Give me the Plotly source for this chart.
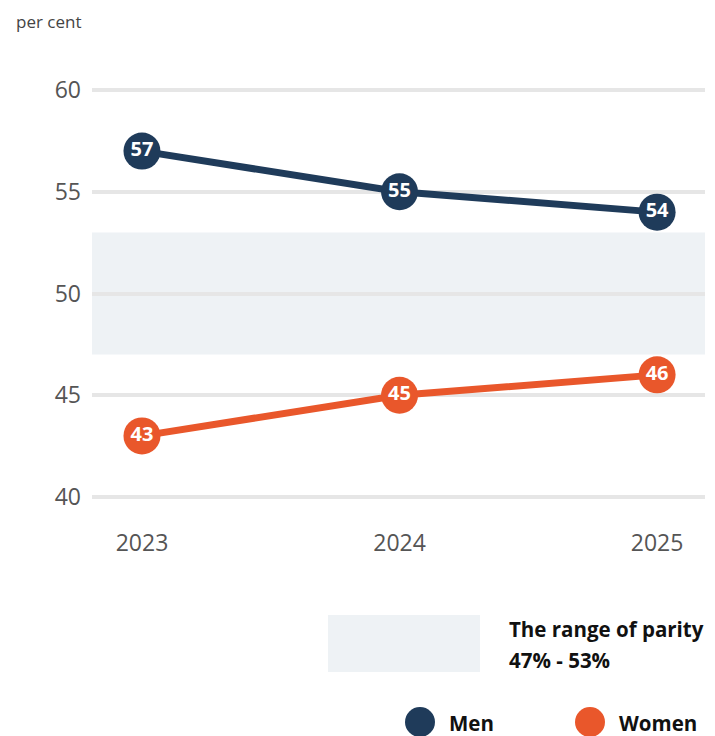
import plotly.graph_objects as go

years = ["2023", "2024", "2025"]
men = [57, 55, 54]
women = [43, 45, 46]
parity_low, parity_high = 47, 53
y_ticks = [40, 45, 50, 55, 60]

MEN_C = "#1f3b5a"
WOMEN_C = "#e9572b"
BAND_C = "#eef2f5"
FONT = "Open Sans"

fig = go.Figure()

fig.add_hrect(y0=parity_low, y1=parity_high, fillcolor=BAND_C, line_width=0, layer="below")

for name, vals, col in [("Men", men, MEN_C), ("Women", women, WOMEN_C)]:
    fig.add_trace(go.Scatter(
        x=years, y=vals, name=name, mode="lines+markers+text",
        line=dict(color=col, width=7),
        marker=dict(color=col, size=37, line=dict(width=0)),
        text=[str(v) for v in vals], textposition="middle center",
        textfont=dict(family=FONT, size=20, color="white", weight="bold"),
        showlegend=False, cliponaxis=False, hoverinfo="x+y",
    ))

W, H = 715, 736
L, R, T, B = 92, 10, 86, 235
pw, ph = W - L - R, H - T - B

def px(x):
    return (x - L) / pw

def py(y):
    return (H - B - y) / ph

shapes = [
    dict(type="rect", xref="paper", yref="paper", x0=px(328), x1=px(480), y0=py(672), y1=py(615),
         fillcolor=BAND_C, line_width=0),
    dict(type="circle", xref="paper", yref="paper", x0=px(405), x1=px(435), y0=py(737), y1=py(707),
         fillcolor=MEN_C, line_width=0),
    dict(type="circle", xref="paper", yref="paper", x0=px(575), x1=px(605), y0=py(737), y1=py(707),
         fillcolor=WOMEN_C, line_width=0),
]
for s in shapes:
    fig.add_shape(**s)

ann_font = dict(family=FONT, size=20.5, color="#111111", weight="bold")
annotations = [
    dict(text="The range of parity", x=px(507), y=py(629), xref="paper", yref="paper",
         xanchor="left", yanchor="middle", showarrow=False, font=ann_font),
    dict(text="47% - 53%", x=px(507), y=py(660), xref="paper", yref="paper",
         xanchor="left", yanchor="middle", showarrow=False, font=ann_font),
    dict(text="Men", x=px(447), y=py(723), xref="paper", yref="paper",
         xanchor="left", yanchor="middle", showarrow=False, font=ann_font),
    dict(text="Women", x=px(617), y=py(723), xref="paper", yref="paper",
         xanchor="left", yanchor="middle", showarrow=False, font=ann_font),
    dict(text="per cent", x=px(14), y=py(22), xref="paper", yref="paper",
         xanchor="left", yanchor="middle", showarrow=False,
         font=dict(family=FONT, size=17, color="#444444")),
]
for a in annotations:
    fig.add_annotation(**a)

fig.update_layout(
    width=W, height=H,
    margin=dict(l=L, r=R, t=T, b=B, pad=0),
    plot_bgcolor="white", paper_bgcolor="white",
    font=dict(family=FONT, color="#555555"),
    showlegend=False,
    xaxis=dict(type="category", range=[-0.194, 2.186], showgrid=False, zeroline=False,
               showline=False, ticks="", tickfont=dict(size=23, color="#555555"),
               ticklabelstandoff=26),
    yaxis=dict(range=[39.8, 60.2], tickvals=y_ticks, showgrid=True, gridcolor="#e6e6e6",
               gridwidth=4, zeroline=False, showline=False, ticks="",
               tickfont=dict(size=23, color="#555555"), ticklabelstandoff=10),
)

fig.write_html("out.html", config={"displayModeBar": False},
               post_script="document.body.style.margin='0';document.body.style.overflow='hidden';")
